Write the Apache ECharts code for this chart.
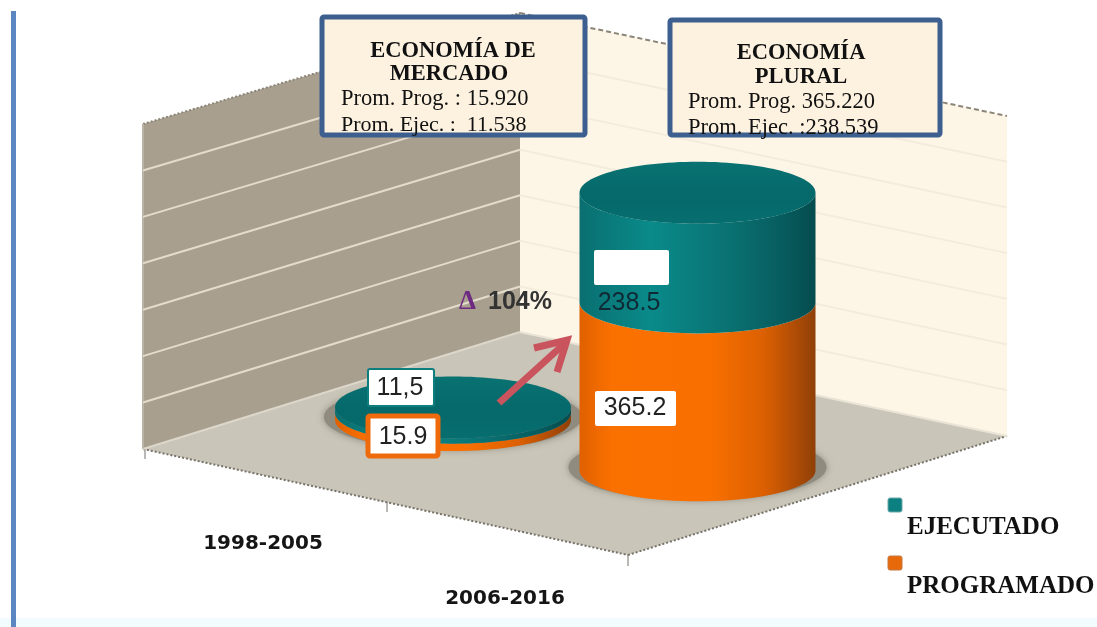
<!DOCTYPE html>
<html>
<head>
<meta charset="utf-8">
<style>
  html, body { margin: 0; padding: 0; background: #fff; }
  #chart { width: 1097px; height: 627px; }
</style>
<script src="https://cdn.jsdelivr.net/npm/echarts@6/dist/echarts.min.js"></script>
</head>
<body>
<div id="chart"></div>
<script>
var categories = ['1998-2005', '2006-2016']
var programado = [15.9, 365.2]
var ejecutado = [11.5, 238.5]
var programadoLabels = ['15.9', '365.2']
var ejecutadoLabels = ['11,5', '238.5']
var seriesNames = ['EJECUTADO', 'PROGRAMADO']

var SERIF = '"Liberation Serif", serif'
var SANS = '"Liberation Sans", sans-serif'

// floor goes down the page towards the viewer, so the base moves down with x
var FIRST_X = 453
var FLOOR_SKEW = 0.206
var RX = 118
var RY = 31

function hGradient(stops) {
  return new echarts.graphic.LinearGradient(0, 0, 1, 0, stops.map(function (s) {
    return { offset: s[0], color: s[1] }
  }))
}

var orangeSide = hGradient([[0, '#e06000'], [0.14, '#fb7100'], [0.55, '#f97000'], [0.78, '#dc6002'], [0.93, '#a94a06'], [1, '#8f4008']])
var tealSide = hGradient([[0, '#0a6f70'], [0.3, '#0a8a8a'], [0.6, '#0a7475'], [0.85, '#075d5f'], [1, '#054c4e']])
var tealTop = new echarts.graphic.LinearGradient(0, 0, 0, 1, [
  { offset: 0, color: '#0a7272' },
  { offset: 0.55, color: '#05686a' },
  { offset: 1, color: '#076e6f' }
])

function cylinderSide(cx, yTop, yBottom, rx, ry) {
  var pts = []
  for (var a = 0; a <= 48; a++) {
    var t = Math.PI * a / 48
    pts.push([cx - rx * Math.cos(t), yBottom + ry * Math.sin(t)])
  }
  for (var b = 0; b <= 48; b++) {
    var u = Math.PI * b / 48
    pts.push([cx + rx * Math.cos(u), yTop + ry * Math.sin(u)])
  }
  return pts
}

function renderSegment(params, api, withTop) {
  var i = api.value(0)
  var from = api.value(2)
  var to = from + api.value(1)
  var p0 = api.coord([i, from])
  var p1 = api.coord([i, to])
  var cx = p0[0]
  var skew = (cx - FIRST_X) * FLOOR_SKEW
  var children = []
  if (!withTop) {
    children.push({
      type: 'ellipse',
      shape: { cx: cx, cy: p0[1] + skew - 3, rx: RX + 11, ry: RY + 2 },
      style: { fill: '#8f8b7f', shadowBlur: 7, shadowColor: '#8f8b7f' }
    })
  }
  children.push({
    type: 'polygon',
    shape: { points: cylinderSide(cx, p1[1] + skew, p0[1] + skew, RX, RY) },
    style: { fill: withTop ? tealSide : orangeSide }
  })
  if (withTop) {
    children.push({
      type: 'ellipse',
      shape: { cx: cx, cy: p1[1] + skew, rx: RX, ry: RY },
      style: { fill: tealTop }
    })
  }
  return { type: 'group', children: children }
}

function poly(points, fill, z) {
  return { type: 'polygon', z: z || 0, shape: { points: points }, style: { fill: fill } }
}

function seg(x1, y1, x2, y2, stroke, width, dash, z) {
  return {
    type: 'line', z: z || 1,
    shape: { x1: x1, y1: y1, x2: x2, y2: y2 },
    style: { stroke: stroke, lineWidth: width, lineDash: dash || null }
  }
}

function txt(x, y, text, font, fill, align, z) {
  return {
    type: 'text', x: x, y: y, z: z || 12,
    style: { text: text, font: font, fill: fill, align: align || 'left', verticalAlign: 'middle' }
  }
}

function box(x, y, w, h, fill, stroke, width, z) {
  return {
    type: 'rect', z: z || 11,
    shape: { x: x, y: y, width: w, height: h, r: 2 },
    style: { fill: fill, stroke: stroke, lineWidth: width }
  }
}

var backdrop = [
  { type: 'rect', z: 0, shape: { x: 0, y: 618, width: 1097, height: 9 }, style: { fill: '#f2fbfd' } },
  { type: 'rect', z: 0, shape: { x: 11, y: 11, width: 5, height: 616 }, style: { fill: '#5b86c1' } },
  poly([[143, 124], [520, 13], [520, 332], [143, 449]], '#a89f8e'),
  poly([[520, 13], [1007, 116], [1007, 436], [520, 332]], '#fdf5e6'),
  poly([[143, 449], [520, 332], [1007, 436], [628, 555]], '#c9c5b8'),
  seg(143, 124, 520, 13, '#8b8578', 2, [2, 2]),
  seg(520, 13, 1007, 116, '#8b8578', 2, [5, 3]),
  seg(143, 124, 143, 449, '#b9b3a6', 2),
  seg(143, 449, 628, 555, '#77736a', 2, [2, 2]),
  seg(628, 555, 1007, 436, '#77736a', 2, [2, 2]),
  seg(145, 449, 145, 459, '#77736a', 1),
  seg(387, 502, 387, 512, '#77736a', 1),
  seg(628, 555, 628, 566, '#77736a', 1)
]

var WALL_DIVISIONS = 7
for (var d = 1; d < WALL_DIVISIONS; d++) {
  var f = d / WALL_DIVISIONS
  var yCorner = 13 + f * 319
  backdrop.push(seg(143, 124 + f * 325, 520, yCorner, '#e3dccd', 2))
  backdrop.push(seg(520, yCorner, 1007, 116 + f * 320, '#f4ecdb', 2))
}
backdrop.push(seg(143, 449, 520, 332, '#dcd7ca', 2))
backdrop.push(seg(520, 332, 1007, 436, '#e9e4d6', 2))

var overlays = [
  // callouts
  box(322, 17, 263, 118, '#fdf2e0', '#3d5f90', 5),
  txt(453, 51, 'ECONOMÍA DE', 'bold 22.5px ' + SERIF, '#111', 'center'),
  txt(449, 74, 'MERCADO', 'bold 22.5px ' + SERIF, '#111', 'center'),
  txt(341, 99, 'Prom. Prog. : 15.920', '22.5px ' + SERIF, '#111'),
  txt(341, 125, 'Prom. Ejec. :  11.538', '22px ' + SERIF, '#111'),
  box(670, 20, 270, 115, '#fdf2e0', '#3d5f90', 5),
  txt(801, 53, 'ECONOMÍA', 'bold 22.5px ' + SERIF, '#111', 'center'),
  txt(801, 77, 'PLURAL', 'bold 22.5px ' + SERIF, '#111', 'center'),
  txt(688, 102, 'Prom. Prog. 365.220', '22.5px ' + SERIF, '#111'),
  txt(688, 128, 'Prom. Ejec. :238.539', '22.5px ' + SERIF, '#111'),
  // value tags
  box(368, 369, 66, 37, '#fff', '#0d7d7e', 2),
  txt(400, 388, ejecutadoLabels[0], '25px ' + SANS, '#222', 'center'),
  box(368, 416, 70, 40, '#fff', '#ee6a0a', 5),
  txt(403, 437, programadoLabels[0], '25px ' + SANS, '#222', 'center'),
  box(594, 250, 75, 35, '#fff', '#fff', 0),
  txt(629, 303, ejecutadoLabels[1], '25px ' + SANS, '#0f2a35', 'center'),
  box(595, 391, 81, 35, '#fff', '#fff', 0),
  txt(635, 408, programadoLabels[1], '25px ' + SANS, '#222', 'center'),
  // growth arrow
  seg(499, 403, 564, 344, '#c9545d', 7, null, 10),
  {
    type: 'polyline', z: 10,
    shape: { points: [[534, 348], [567, 340], [557, 372]] },
    style: { stroke: '#c9545d', lineWidth: 7, fill: 'none' }
  },
  txt(459, 302, 'Δ', 'bold 27px ' + SERIF, '#6d2a80'),
  txt(488, 302, '104%', 'bold 25px ' + SANS, '#333'),
  // category labels
  txt(263, 544, categories[0], 'bold 20px "DejaVu Sans", sans-serif', '#151515', 'center'),
  txt(505, 599, categories[1], 'bold 20px "DejaVu Sans", sans-serif', '#151515', 'center'),
  // legend
  box(888, 498, 14, 14, '#0c7f80', '#6fa9a9', 1),
  txt(907, 528, seriesNames[0], 'bold 25px ' + SERIF, '#111'),
  box(888, 556, 14, 14, '#e8690a', '#c07a45', 1),
  txt(907, 587, seriesNames[1], 'bold 25px ' + SERIF, '#111')
]

var chart = echarts.init(document.getElementById('chart'))

chart.setOption({
  animation: false,
  backgroundColor: '#fff',
  grid: { left: 330.75, width: 489, top: 98, height: 322 },
  xAxis: { type: 'category', data: categories, show: false },
  yAxis: { type: 'value', min: 0, max: 700, interval: 100, show: false },
  graphic: { elements: backdrop.concat(overlays) },
  series: [{
    name: seriesNames[1],
    type: 'custom',
    z: 3,
    encode: { x: 0, y: 1 },
    data: programado.map(function (v, i) { return [i, v, 0] }),
    renderItem: function (params, api) {
      return renderSegment(params, api, false)
    }
  }, {
    name: seriesNames[0],
    type: 'custom',
    z: 4,
    encode: { x: 0, y: 1 },
    data: ejecutado.map(function (v, i) { return [i, v, programado[i]] }),
    renderItem: function (params, api) {
      return renderSegment(params, api, true)
    }
  }]
})
</script>
</body>
</html>
